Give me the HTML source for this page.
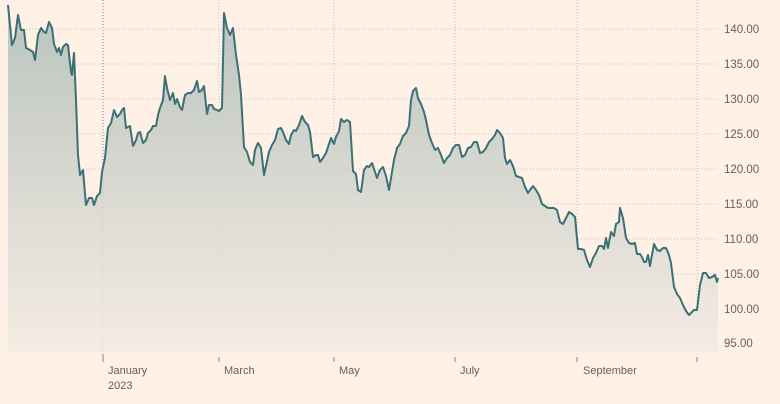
<!DOCTYPE html>
<html><head><style>
body{margin:0;background:#fff1e5;}
svg{display:block;font-family:"Liberation Sans",sans-serif;}
</style></head><body>
<svg width="780" height="404" viewBox="0 0 780 404">
<defs><linearGradient id="g" x1="0" y1="0" x2="0" y2="1">
<stop offset="0" stop-color="#aebcb8"/><stop offset="1" stop-color="#f3ebe3"/></linearGradient></defs>
<rect width="780" height="404" fill="#fff1e5"/>
<g stroke="#c9bfb6" stroke-dasharray="1,2" stroke-width="1">
<line x1="8" x2="718" y1="29" y2="29"/><line x1="8" x2="718" y1="64" y2="64"/><line x1="8" x2="718" y1="99" y2="99"/><line x1="8" x2="718" y1="134" y2="134"/><line x1="8" x2="718" y1="169" y2="169"/><line x1="8" x2="718" y1="204" y2="204"/><line x1="8" x2="718" y1="239" y2="239"/><line x1="8" x2="718" y1="274" y2="274"/><line x1="8" x2="718" y1="309" y2="309"/><line x1="8" x2="718" y1="343" y2="343"/>
<line x1="219" x2="219" y1="0" y2="352"/><line x1="334" x2="334" y1="0" y2="352"/><line x1="455" x2="455" y1="0" y2="352"/><line x1="577" x2="577" y1="0" y2="352"/><line x1="697" x2="697" y1="0" y2="352"/>
</g>
<line x1="103" x2="103" y1="0" y2="352" stroke="#8a8580" stroke-dasharray="1,2"/>
<path id="p" d="M8,5 L12,45 15,38 18,15 21,30 24,30 26,48 30,50 33,52 35,60 38,35 41,28 44,32 46,33 49,22 52,28 54,44 57,52 59,48 61,55 63,47 66,44 68,45 71,72 72,75 74,53 76,100 78,155 80,175 83,170 86,205 89,198 92,198 94,205 97,196 100,193 102,172 105,158 108,128 111,123 114,110 117,117 120,114 122,110 124,108 126,128 128,127 130,126 133,146 136,140 138,133 140,132 143,143 146,140 148,133 151,130 153,126 156,126 158,115 160,108 163,100 165,76 167,88 170,100 173,93 175,104 177,99 180,107 182,110 185,95 188,93 191,93 194,90 197,81 199,92 202,90 204,86 207,114 209,105 212,105 214,109 217,110 219,111 222,108 224,13 227,28 230,35 233,28 236,55 239,75 241,95 244,147 247,152 250,162 253,165 255,150 258,143 261,148 264,175 266,166 269,152 272,145 275,140 278,129 281,128 283,132 286,140 289,144 291,135 294,130 296,131 299,125 302,116 305,122 308,125 310,132 313,157 316,155 318,155 320,162 323,158 326,153 328,147 331,138 334,144 336,137 339,131 341,119 344,122 347,120 350,122 353,171 356,174 358,190 361,192 364,170 367,166 369,167 372,163 375,172 377,178 380,170 383,167 386,176 389,190 391,178 394,160 397,148 400,144 403,136 406,133 409,126 411,100 413,91 416,88 418,98 421,104 424,112 426,120 429,135 432,143 435,150 438,148 441,155 444,163 447,158 450,155 453,148 456,145 459,145 462,157 465,155 468,148 471,147 474,142 477,142 480,153 483,152 486,148 489,142 492,139 495,135 497,130 500,133 503,138 505,158 507,164 510,160 513,166 516,176 519,177 522,178 525,187 528,193 530,190 533,186 536,190 539,195 542,204 545,206 548,208 551,208 554,208 557,210 560,222 563,224 566,218 569,212 572,214 575,217 578,249 581,249 584,250 587,260 590,267 593,258 596,253 599,246 602,246 604,249 606,238 608,248 611,232 614,236 616,224 619,222 620,208 623,218 626,238 629,243 632,244 635,243 637,254 640,254 642,257 644,262 646,262 648,255 650,266 652,255 654,244 657,250 660,251 663,248 666,248 669,255 671,263 674,287 677,294 680,298 683,305 686,311 689,315 691,313 694,310 697,310 700,285 703,273 706,273 709,278 712,277 715,275 717,282 718,278" fill="none"/>
<path d="M8,5 L12,45 15,38 18,15 21,30 24,30 26,48 30,50 33,52 35,60 38,35 41,28 44,32 46,33 49,22 52,28 54,44 57,52 59,48 61,55 63,47 66,44 68,45 71,72 72,75 74,53 76,100 78,155 80,175 83,170 86,205 89,198 92,198 94,205 97,196 100,193 102,172 105,158 108,128 111,123 114,110 117,117 120,114 122,110 124,108 126,128 128,127 130,126 133,146 136,140 138,133 140,132 143,143 146,140 148,133 151,130 153,126 156,126 158,115 160,108 163,100 165,76 167,88 170,100 173,93 175,104 177,99 180,107 182,110 185,95 188,93 191,93 194,90 197,81 199,92 202,90 204,86 207,114 209,105 212,105 214,109 217,110 219,111 222,108 224,13 227,28 230,35 233,28 236,55 239,75 241,95 244,147 247,152 250,162 253,165 255,150 258,143 261,148 264,175 266,166 269,152 272,145 275,140 278,129 281,128 283,132 286,140 289,144 291,135 294,130 296,131 299,125 302,116 305,122 308,125 310,132 313,157 316,155 318,155 320,162 323,158 326,153 328,147 331,138 334,144 336,137 339,131 341,119 344,122 347,120 350,122 353,171 356,174 358,190 361,192 364,170 367,166 369,167 372,163 375,172 377,178 380,170 383,167 386,176 389,190 391,178 394,160 397,148 400,144 403,136 406,133 409,126 411,100 413,91 416,88 418,98 421,104 424,112 426,120 429,135 432,143 435,150 438,148 441,155 444,163 447,158 450,155 453,148 456,145 459,145 462,157 465,155 468,148 471,147 474,142 477,142 480,153 483,152 486,148 489,142 492,139 495,135 497,130 500,133 503,138 505,158 507,164 510,160 513,166 516,176 519,177 522,178 525,187 528,193 530,190 533,186 536,190 539,195 542,204 545,206 548,208 551,208 554,208 557,210 560,222 563,224 566,218 569,212 572,214 575,217 578,249 581,249 584,250 587,260 590,267 593,258 596,253 599,246 602,246 604,249 606,238 608,248 611,232 614,236 616,224 619,222 620,208 623,218 626,238 629,243 632,244 635,243 637,254 640,254 642,257 644,262 646,262 648,255 650,266 652,255 654,244 657,250 660,251 663,248 666,248 669,255 671,263 674,287 677,294 680,298 683,305 686,311 689,315 691,313 694,310 697,310 700,285 703,273 706,273 709,278 712,277 715,275 717,282 718,278 L718,352 L8,352 Z" fill="url(#g)" opacity="0.85"/>
<use href="#p" stroke="#3a7177" stroke-width="2" stroke-linejoin="round"/>
<g stroke="#8a8580" stroke-width="1">
<line x1="103" x2="103" y1="354" y2="362"/><line x1="219" x2="219" y1="357" y2="362"/><line x1="334" x2="334" y1="357" y2="362"/><line x1="455" x2="455" y1="357" y2="362"/><line x1="577" x2="577" y1="357" y2="362"/><line x1="697" x2="697" y1="357" y2="362"/>
</g>
<g fill="#66605c" font-size="11">
<text x="108" y="374">January</text><text x="108" y="389">2023</text>
<text x="224" y="374">March</text><text x="339" y="374">May</text><text x="460" y="374">July</text><text x="583" y="374">September</text>
<g font-size="11.5"><text x="724" y="33">140.00</text><text x="724" y="68">135.00</text><text x="724" y="103">130.00</text><text x="724" y="138">125.00</text><text x="724" y="173">120.00</text><text x="724" y="208">115.00</text><text x="724" y="243">110.00</text><text x="724" y="278">105.00</text><text x="724" y="313">100.00</text><text x="724" y="347">95.00</text></g>
</g>
</svg>
</body></html>
